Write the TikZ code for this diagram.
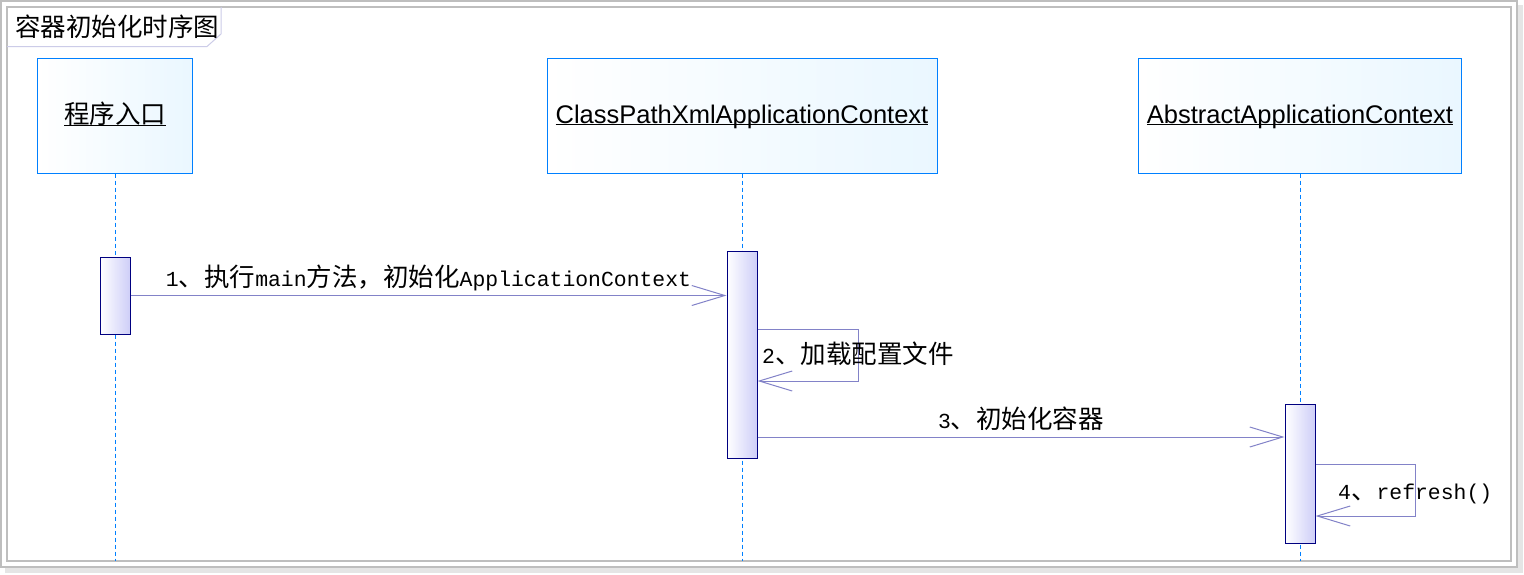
\documentclass[tikz,border=0pt]{standalone}
\usepackage{fontspec}
\setsansfont{Liberation Sans}
\setmonofont{Liberation Mono}[Scale=0.84]
\newfontfamily\cjk{Noto Sans CJK SC}
\usetikzlibrary{arrows.meta}

\definecolor{headline}{RGB}{0,128,255}
\definecolor{headfill}{RGB}{234,247,255}
\definecolor{barline}{RGB}{0,0,128}
\definecolor{barfill}{RGB}{206,206,248}
\definecolor{msgline}{RGB}{130,130,200}
\definecolor{framegray}{RGB}{190,190,190}
\definecolor{tabline}{RGB}{204,204,232}

\newcommand\zh[1]{{\cjk #1}}
\newcommand\uword[1]{\underline{\smash{#1}\vphantom{A}}}

\begin{document}
\begin{tikzpicture}[x=1pt,y=-1pt,font=\fontsize{25.5}{30}\selectfont]
            \tikzstyle{head}=[draw=headline,line width=1pt,left color=white,right color=headfill,minimum height=115pt,inner sep=0pt]
            \tikzstyle{bar}=[draw=barline,line width=1pt,left color=white,right color=barfill,minimum width=30pt,inner sep=0pt]
            \tikzstyle{lifeline}=[draw=headline,line width=1pt,dash pattern=on 4pt off 3pt]
            \tikzstyle{msg}=[draw=msgline,line width=1pt,-{Straight Barb[length=33pt,width=20pt]}]
            \tikzstyle{msgtext}=[inner sep=0pt,font=\fontsize{25.5}{30}\selectfont\ttfamily]

            % Draw the frame and its title tab
            \useasboundingbox (0,0) rectangle (1524,574);
            \fill[black!10] (5,5) rectangle (1523,573);
            \draw[framegray,line width=1.5pt,fill=white] (1,1) rectangle (1517,567);
            \draw[framegray,line width=1.5pt] (7,7) rectangle (1511,561);
            \draw[tabline,line width=1pt] (7,46.5) -- (207,46.5) -- (221,34) -- (221,7);
            \node[inner sep=0pt,anchor=base west] (title) at (15,36) {\zh{容器初始化时序图}};

            % Draw the lifeline heads
            \node[head,minimum width=155pt] (head-1) at (115,115.5) {\zh{\uword{程序入口}}};
            \node[head,minimum width=390pt] (head-2) at (742,115.5) {\sffamily\uword{ClassPathXmlApplicationContext}};
            \node[head,minimum width=323pt] (head-3) at (1300,115.5) {\sffamily\uword{AbstractApplicationContext}};

            % Draw the lifelines down to the frame
            \coordinate (bottom) at (0,561);
            \foreach \name in {1,2,3}
                \draw[lifeline] (head-\name.south) -- (head-\name.south |- bottom);

            % Draw the activation bars
            \node[bar,minimum height=77pt] (bar-1) at (115,295.5) {};
            \node[bar,minimum height=207pt] (bar-2) at (742,354.5) {};
            \node[bar,minimum height=139pt] (bar-3) at (1300,473.5) {};

            % Message 1 and 3 go between the bars
            \draw[msg] (bar-1.east) -- node[msgtext,anchor=base,yshift=9pt] (text-1)
                {1\zh{、执行}main\zh{方法，初始化}ApplicationContext} (bar-2.west |- bar-1.east);
            \coordinate (m3) at (0,437);
            \draw[msg] (bar-2.east |- m3) -- node[msgtext,anchor=base,yshift=9pt] (text-3)
                {3\zh{、初始化容器}} (bar-3.west |- m3);

            % Self messages 2 and 4
            \coordinate (s2a) at (858,329);
            \coordinate (s2b) at (858,381);
            \draw[msg] (bar-2.east |- s2a) -- (s2a) -- (s2b) -- (bar-2.east |- s2b);
            \node[msgtext,anchor=base west] (text-2) at (762,363) {2\zh{、加载配置文件}};
            \coordinate (s4a) at (1415,464);
            \coordinate (s4b) at (1415,516);
            \draw[msg] (bar-3.east |- s4a) -- (s4a) -- (s4b) -- (bar-3.east |- s4b);
            \node[msgtext,anchor=base west] (text-4) at (1338,499) {4\zh{、}refresh()};
        \end{tikzpicture}
\end{document}
